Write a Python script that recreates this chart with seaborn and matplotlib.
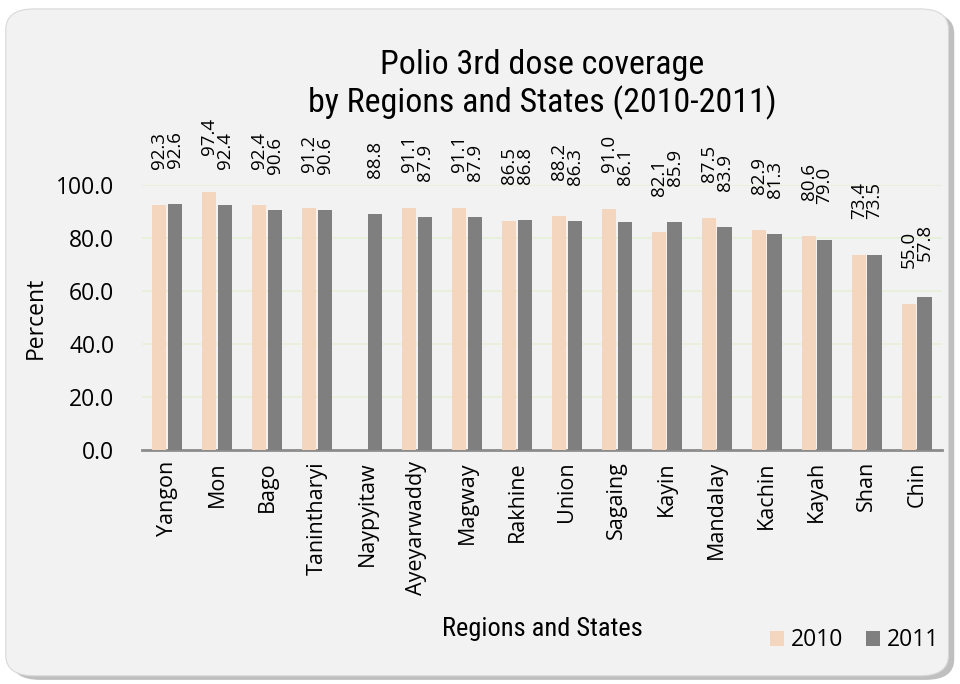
import numpy as np
import pandas as pd
import matplotlib
matplotlib.use("Agg")
import matplotlib.pyplot as plt
from matplotlib.patches import FancyBboxPatch
import seaborn as sns

regions = ["Yangon", "Mon", "Bago", "Tanintharyi", "Naypyitaw", "Ayeyarwaddy",
           "Magway", "Rakhine", "Union", "Sagaing", "Kayin", "Mandalay",
           "Kachin", "Kayah", "Shan", "Chin"]
cov_2010 = [92.3, 97.4, 92.4, 91.2, np.nan, 91.1, 91.1, 86.5, 88.2, 91.0,
            82.1, 87.5, 82.9, 80.6, 73.4, 55.0]
cov_2011 = [92.6, 92.4, 90.6, 90.6, 88.8, 87.9, 87.9, 86.8, 86.3, 86.1,
            85.9, 83.9, 81.3, 79.0, 73.5, 57.8]
years = ["2010", "2011"]
yticks = [0, 20, 40, 60, 80, 100]

df = pd.DataFrame({
    "Region": regions * 2,
    "Year": [years[0]] * len(regions) + [years[1]] * len(regions),
    "Coverage": cov_2010 + cov_2011,
})

sns.set_theme(style="white")
narrow = ["Liberation Sans Narrow", "Roboto Condensed", "Lato", "DejaVu Sans"]
plt.rcParams["font.family"] = ["Open Sans", "DejaVu Sans"]
plt.rcParams["text.color"] = "black"
plt.rcParams["axes.labelcolor"] = "black"
plt.rcParams["xtick.color"] = "black"
plt.rcParams["ytick.color"] = "black"

fig = plt.figure(figsize=(9.6, 6.84), dpi=100)
fig.patch.set_facecolor("white")
shadow = FancyBboxPatch((0.012, 0.006), 0.982, 0.975, boxstyle="round,pad=0,rounding_size=0.03",
                        transform=fig.transFigure, facecolor="#bfbfbf", edgecolor="none", zorder=0)
panel = FancyBboxPatch((0.006, 0.012), 0.982, 0.975, boxstyle="round,pad=0,rounding_size=0.03",
                       transform=fig.transFigure, facecolor="#f2f2f2", edgecolor="#d9d9d9",
                       linewidth=0.8, zorder=1)
fig.patches.extend([shadow, panel])

ax = fig.add_axes([0.148, 0.342, 0.833, 0.388])
ax.set_facecolor("none")
ax.set_zorder(2)

sns.barplot(data=df, x="Region", y="Coverage", hue="Year", order=regions,
            hue_order=years, palette=["#fcd5b4", "#7f7f7f"], width=0.62, gap=0.08,
            edgecolor="none", ax=ax, zorder=3)

for cont in ax.containers:
    ax.bar_label(cont, fmt=lambda v: "" if np.isnan(v) else f"{v:.1f}",
                 rotation=90, padding=26, fontsize=13.5, color="black", zorder=4)

ax.set_ylim(0, 100)
ax.set_xlim(-0.5, len(regions) - 0.5)
ax.set_yticks(yticks)
ax.set_yticklabels([f"{v:.1f}" for v in yticks], fontsize=16.5)
ax.yaxis.grid(True, color="#e6efd6", linewidth=1.2, zorder=0)
ax.set_axisbelow(True)
ax.tick_params(axis="x", labelrotation=90, labelsize=15.5, length=0, pad=8)
ax.tick_params(axis="y", length=0, pad=20)
for s in ["top", "right", "left"]:
    ax.spines[s].set_visible(False)
ax.spines["bottom"].set_color("#8c8c8c")
ax.spines["bottom"].set_linewidth(2)

ax.set_xlabel("Regions and States", fontsize=19, family=narrow, labelpad=16)
ax.set_ylabel("Percent", fontsize=16.5, labelpad=6)

leg = ax.legend(loc="lower right", bbox_to_anchor=(1.022, -0.84), ncol=2, frameon=False,
                fontsize=16.5, handlelength=0.6, handleheight=0.6, handletextpad=0.3,
                columnspacing=1.0, title=None)

fig.suptitle("Polio 3rd dose coverage\nby Regions and States (2010-2011)",
             x=0.565, y=0.928, fontsize=24.5, family=narrow, linespacing=1.15)

fig.savefig("out.png", dpi=100, facecolor=fig.get_facecolor())
